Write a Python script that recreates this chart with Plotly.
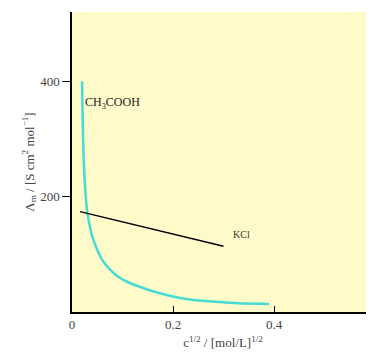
import plotly.graph_objects as go

# CH3COOH (weak electrolyte)
acetic_x = [0.020, 0.021, 0.023, 0.026, 0.030, 0.035, 0.040, 0.050, 0.060, 0.075, 0.090, 0.110, 0.130, 0.160, 0.200, 0.230, 0.280, 0.330, 0.390]
acetic_y = [400, 340, 270, 215, 175, 150, 131, 108, 90, 74, 62, 52, 45, 36, 27, 22, 18, 15, 14]

# KCl (strong electrolyte)
kcl_x = [0.016, 0.30]
kcl_y = [174, 114]

serif = "Liberation Serif, DejaVu Serif, serif"

fig = go.Figure()

fig.add_trace(go.Scatter(x=acetic_x, y=acetic_y, mode="lines", line_shape="spline",
                         line=dict(color="#45DCD4", width=2.5), showlegend=False))
fig.add_trace(go.Scatter(x=kcl_x, y=kcl_y, mode="lines",
                         line=dict(color="black", width=1.5), showlegend=False))

fig.add_annotation(x=0.022, y=362, text="CH<sub>3</sub>COOH", showarrow=False,
                   xanchor="left", font=dict(family=serif, size=12, color="#222"))
fig.add_annotation(x=0.315, y=134, text="KCl", showarrow=False,
                   xanchor="left", font=dict(family=serif, size=10, color="#333"))

# page body has an 8px margin, so size the figure to fit the window
fig.update_layout(
    width=366,
    height=347,
    autosize=False,
    margin=dict(t=4, b=43, l=64, r=0),
    paper_bgcolor="white",
    plot_bgcolor="#FEFAC9",
    font=dict(family=serif, size=13, color="#444"),
)

fig.update_xaxes(
    range=[0, 0.598], tickvals=[0, 0.2, 0.4], ticktext=["0", "0.2", "0.4"],
    showgrid=False, zeroline=False, showline=True, linecolor="black", linewidth=1.5,
    ticks="inside", ticklen=6, tickcolor="black",
    title=dict(text="c<sup>1/2</sup> / [mol/L]<sup>1/2</sup>", standoff=7,
               font=dict(family=serif, size=13)),
)
fig.update_yaxes(
    range=[0, 520], tickvals=[200, 400],
    showgrid=False, zeroline=False, showline=True, linecolor="black", linewidth=1.5,
    ticks="outside", ticklen=8, tickcolor="black",
    title=dict(text="Λ<sub>m</sub> / [S cm<sup>2</sup> mol<sup>−1</sup>]", standoff=3,
               font=dict(family=serif, size=13)),
)

fig.write_html("out.html")
